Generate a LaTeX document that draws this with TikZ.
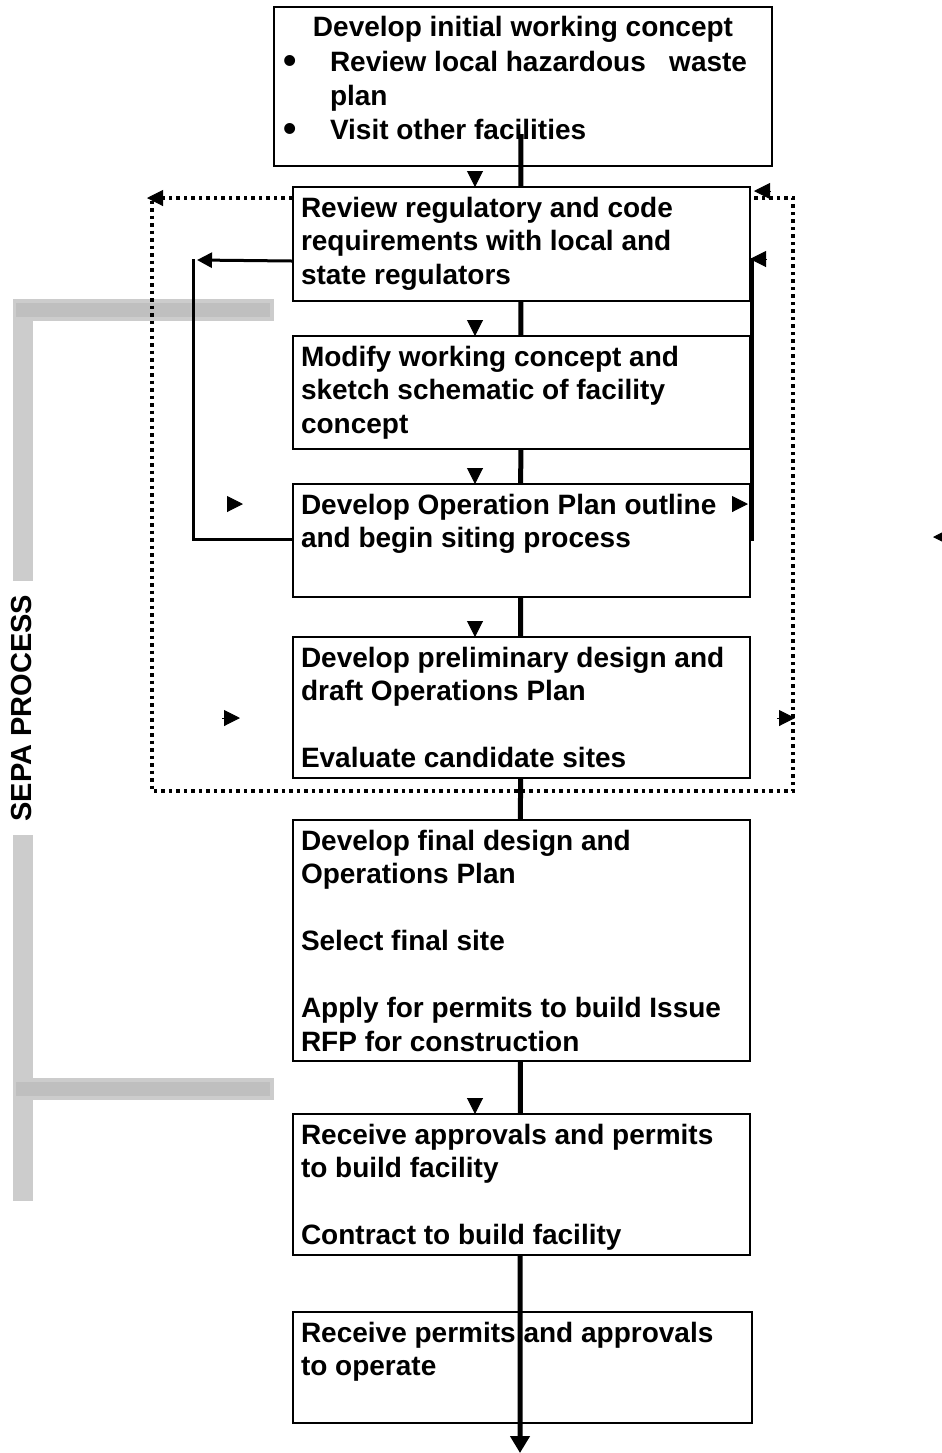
\documentclass[tikz,border=0pt]{standalone}
\usepackage{fontspec}
\setmainfont{Liberation Sans}
\usetikzlibrary{arrows.meta,backgrounds}

\begin{document}
\begin{tikzpicture}[x=0.5pt, y=-0.5pt]
	\tikzstyle{Step}	= [draw, line width=1pt, fill=white, anchor=north west, inner xsep=4pt, inner ysep=5pt, font=\bfseries\fontsize{14pt}{16.75pt}\selectfont]
	\tikzstyle{Spine}	= [line width=2.5pt, -{Triangle[length=8.5pt, width=9.5pt]}]
	\tikzstyle{Loop}	= [line width=1.5pt]
	\tikzstyle{Dots}	= [line width=1.75pt, dash pattern=on 1.75pt off 2pt]
	\tikzstyle{Head}	= [line width=0.5pt, -{Triangle[length=8pt, width=8pt]}]
	\tikzstyle{Bar}		= [fill=black!20]
	\tikzstyle{BarIn}	= [fill=black!25]

	\useasboundingbox (0,0) rectangle (942,1453);

	\node (b1) at (273,6) [Step, fill=none, inner xsep=4.5pt, inner ysep=4.75pt] {\parbox[c][70pt][t]{240pt}{\fontsize{14pt}{17.15pt}\selectfont
		\centering Develop initial working concept\par
		\raggedright
		\makebox[23.5pt][l]{\raisebox{-1pt}{\fontsize{19pt}{19pt}\selectfont\textbullet}}Review local hazardous\ \ \ waste\\
		\hspace*{23.5pt}plan\\
		\makebox[23.5pt][l]{\raisebox{-1pt}{\fontsize{19pt}{19pt}\selectfont\textbullet}}Visit other facilities}};
	\node (b2) at (292,186) [Step] {\parbox[c][47pt][t]{220.5pt}{\raggedright
		Review regulatory and code\\ requirements with local and\\ state regulators}};
	\node (b3) at (292,335) [Step] {\parbox[c][46.5pt][t]{220.5pt}{\raggedright
		Modify working concept and\\ sketch schematic of facility\\ concept}};
	\node (b4) at (292,483) [Step] {\parbox[c][46.5pt][t]{220.5pt}{\raggedright
		Develop Operation Plan outline\\ and begin siting process}};
	\node (b5) at (292,636) [Step] {\parbox[c][60.5pt][t]{220.5pt}{\raggedright
		Develop preliminary design and\\ draft Operations Plan\\[16.75pt] Evaluate candidate sites}};
	\node (b6) at (292,819) [Step] {\parbox[c][110.5pt][t]{220.5pt}{\raggedright
		Develop final design and\\ Operations Plan\\[16.75pt] Select final site\\[16.75pt] Apply for permits to build Issue\\ RFP for construction}};
	\node (b7) at (292,1113) [Step] {\parbox[c][60.5pt][t]{220.5pt}{\raggedright
		Receive approvals and permits\\ to build facility\\[16.75pt] Contract to build facility}};
	\node (b8) at (292,1311) [Step, fill=none] {\parbox[c][45.5pt][t]{221.5pt}{\raggedright
		Receive permits and approvals\\ to operate}};

	\coordinate (d1) at (152,198);
	\coordinate (d2) at (152,791);
	\coordinate (d3) at (793,791);
	\coordinate (d4) at (793,198);
	\coordinate (lc) at (193,260);
	\coordinate (out) at (520,1453);

	\begin{scope}[on background layer]
		% SEPA bracket
		\fill [Bar] (13,299) rectangle (33,1201);
		\fill [Bar] (13,299) rectangle (274,321);
		\fill [BarIn] (16,303) rectangle (270,317);
		\fill [Bar] (13,1078) rectangle (274,1100);
		\fill [BarIn] (16,1082) rectangle (270,1096);
		\node (sepa) at (22,708) [rotate=90, fill=white, inner xsep=7pt, inner ysep=3pt, font=\bfseries\fontsize{14.5pt}{16pt}\selectfont] {SEPA PROCESS};

		% loops
		\draw [Dots] ([yshift=-6pt]b2.north west) -- (d1) -- (d2) -- (d3) -- (d4) -- ([yshift=-6pt]b2.north east);
		\draw [Loop, -{Triangle[length=7.5pt, width=7.5pt]}] ([yshift=-8.5pt]b2.west) -- ([xshift=2pt]lc);
		\draw [Loop] ([yshift=0.75pt]b4.west) -| ([yshift=0.75pt]lc);
		\draw [Loop, line width=2pt] ([xshift=0.5pt]b4.east) -- ([xshift=0.5pt, yshift=-7pt]b2.east);

		\draw [Spine] ([xshift=-1pt, yshift=16.5pt]b1.south) -- (out);
	\end{scope}

	% loose arrow heads
	\foreach \b in {b2,b3,b4,b5,b7}
		\draw [Head] ([xshift=-23.25pt, yshift=7.5pt]\b.north) -- ([xshift=-23.25pt, yshift=-0.5pt]\b.north);
	\draw [Head] (163,198) -- (147,198);
	\draw [Head] (770,191) -- (754,191);
	\draw [Head] (766,259) -- (750,259);
	\draw [Head] (227,504) -- (243,504);
	\draw [Head] (732,504) -- (748,504);
	\draw [Head] (222,718) -- (240,718);
	\draw [Head] (777,718) -- (795,718);
	\draw [Head] (949,537) -- (933,537);
\end{tikzpicture}
\end{document}
